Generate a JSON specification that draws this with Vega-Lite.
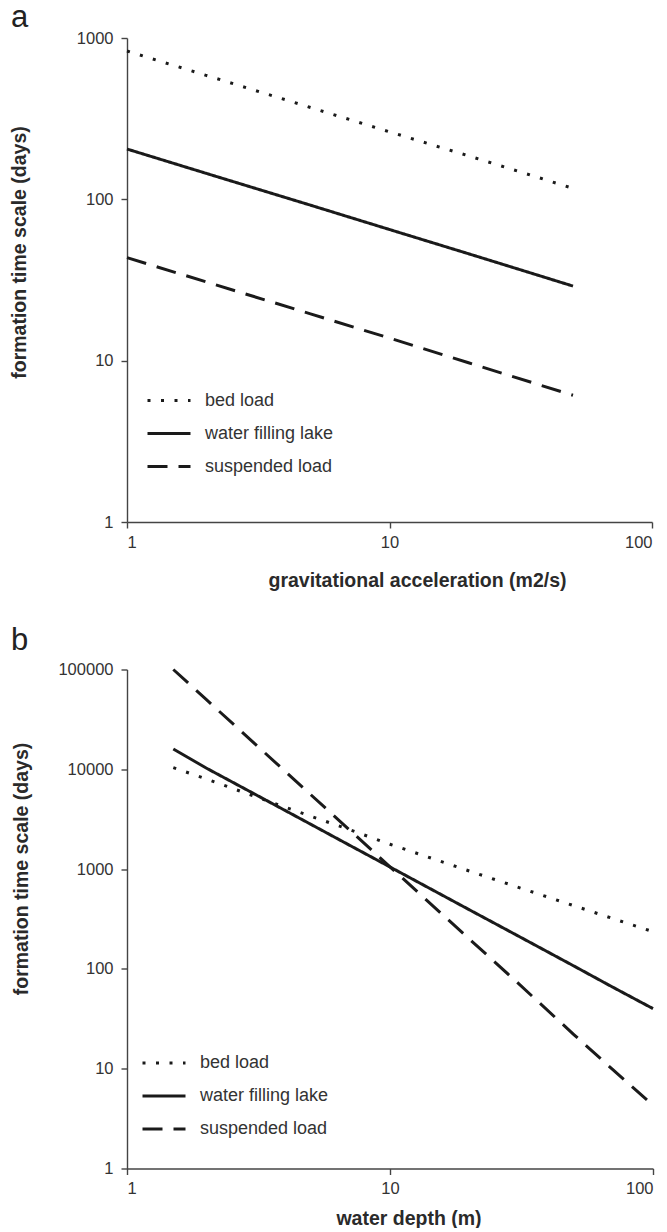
{
  "$schema": "https://vega.github.io/schema/vega-lite/v6.json",
  "background": "white",
  "padding": {"left": 9, "top": 2, "right": 5, "bottom": 0},
  "config": {
    "font": "Liberation Sans",
    "view": {"stroke": null},
    "concat": {"spacing": 34.5},
    "axis": {
      "grid": false,
      "domainColor": "#444",
      "domainWidth": 1.4,
      "tickColor": "#444",
      "tickWidth": 1.4,
      "tickSize": 6,
      "labelFont": "Liberation Sans",
      "labelFontSize": 16.5,
      "labelColor": "#333",
      "titleFont": "Liberation Sans",
      "titleFontSize": 19.5,
      "titleFontWeight": "bold",
      "titleColor": "#2a2a2a"
    },
    "legend": {
      "labelFont": "Liberation Sans",
      "labelFontSize": 18,
      "labelColor": "#333",
      "symbolType": "stroke",
      "symbolSize": 1849,
      "symbolStrokeWidth": 3,
      "symbolStrokeColor": "#1a1a1a",
      "rowPadding": 1,
      "labelOffset": 13,
      "padding": 0,
      "labelLimit": 300
    },
    "title": {"font": "Liberation Sans", "fontSize": 31, "fontWeight": "normal", "color": "#222", "anchor": "start", "frame": "group"}
  },
  "datasets": {
    "panelA": [
      {"x": 1, "y": 830, "series": "bed load"},
      {"x": 2, "y": 587, "series": "bed load"},
      {"x": 5, "y": 371, "series": "bed load"},
      {"x": 10, "y": 262, "series": "bed load"},
      {"x": 20, "y": 186, "series": "bed load"},
      {"x": 50, "y": 117, "series": "bed load"},
      {"x": 1, "y": 205, "series": "water filling lake"},
      {"x": 2, "y": 145, "series": "water filling lake"},
      {"x": 5, "y": 92, "series": "water filling lake"},
      {"x": 10, "y": 65, "series": "water filling lake"},
      {"x": 20, "y": 46, "series": "water filling lake"},
      {"x": 50, "y": 29, "series": "water filling lake"},
      {"x": 1, "y": 43.5, "series": "suspended load"},
      {"x": 2, "y": 30.8, "series": "suspended load"},
      {"x": 5, "y": 19.5, "series": "suspended load"},
      {"x": 10, "y": 13.8, "series": "suspended load"},
      {"x": 20, "y": 9.7, "series": "suspended load"},
      {"x": 50, "y": 6.1, "series": "suspended load"}
    ],
    "panelB": [
      {"x": 1.5, "y": 10400, "series": "bed load"},
      {"x": 2, "y": 8000, "series": "bed load"},
      {"x": 3, "y": 5460, "series": "bed load"},
      {"x": 5, "y": 3390, "series": "bed load"},
      {"x": 7, "y": 2490, "series": "bed load"},
      {"x": 10, "y": 1775, "series": "bed load"},
      {"x": 20, "y": 958, "series": "bed load"},
      {"x": 30, "y": 671, "series": "bed load"},
      {"x": 50, "y": 430, "series": "bed load"},
      {"x": 70, "y": 321, "series": "bed load"},
      {"x": 100, "y": 236, "series": "bed load"},
      {"x": 1.5, "y": 16000, "series": "water filling lake"},
      {"x": 2, "y": 10300, "series": "water filling lake"},
      {"x": 3, "y": 5800, "series": "water filling lake"},
      {"x": 5, "y": 2810, "series": "water filling lake"},
      {"x": 7, "y": 1740, "series": "water filling lake"},
      {"x": 10, "y": 1050, "series": "water filling lake"},
      {"x": 20, "y": 392, "series": "water filling lake"},
      {"x": 30, "y": 221, "series": "water filling lake"},
      {"x": 50, "y": 107, "series": "water filling lake"},
      {"x": 70, "y": 66, "series": "water filling lake"},
      {"x": 100, "y": 40, "series": "water filling lake"},
      {"x": 1.5, "y": 100000, "series": "suspended load"},
      {"x": 2, "y": 50100, "series": "suspended load"},
      {"x": 3, "y": 18950, "series": "suspended load"},
      {"x": 5, "y": 5560, "series": "suspended load"},
      {"x": 7, "y": 2480, "series": "suspended load"},
      {"x": 10, "y": 1054, "series": "suspended load"},
      {"x": 20, "y": 200, "series": "suspended load"},
      {"x": 30, "y": 76, "series": "suspended load"},
      {"x": 50, "y": 22, "series": "suspended load"},
      {"x": 70, "y": 9.9, "series": "suspended load"},
      {"x": 100, "y": 4.3, "series": "suspended load"}
    ]
  },
  "resolve": {"scale": {"strokeDash": "independent"}, "legend": {"strokeDash": "independent"}},
  "vconcat": [
    {
      "width": 525,
      "height": 484,
      "title": {"text": "a", "dx": -116, "dy": 0, "offset": -4},
      "data": {"name": "panelA"},
      "mark": {"type": "line", "color": "#1a1a1a", "strokeWidth": 3},
      "encoding": {
        "x": {"field": "x", "type": "quantitative",
          "scale": {"type": "log", "domain": [1, 100]},
          "axis": {"values": [1, 10, 100], "format": "d", "labelPadding": 6,
            "title": "gravitational acceleration (m2/s)", "titleX": 290, "titleY": 58, "titleBaseline": "middle"}},
        "y": {"field": "y", "type": "quantitative",
          "scale": {"type": "log", "domain": [1, 1000]},
          "axis": {"values": [1, 10, 100, 1000], "format": "d", "labelPadding": 8,
            "title": "formation time scale (days)", "titleX": -107.5, "titleY": 214, "titleBaseline": "middle"}},
        "strokeDash": {"field": "series", "type": "nominal",
          "scale": {"domain": ["bed load", "water filling lake", "suspended load"], "range": [[3, 10.5], [1, 0], [20, 11]]},
          "legend": {"title": null, "orient": "none", "legendX": 19, "legendY": 339.5}}
      }
    },
    {
      "width": 526,
      "height": 499,
      "title": {"text": "b", "dx": -116, "dy": 0, "offset": 4.5},
      "data": {"name": "panelB"},
      "mark": {"type": "line", "color": "#1a1a1a", "strokeWidth": 3},
      "encoding": {
        "x": {"field": "x", "type": "quantitative",
          "scale": {"type": "log", "domain": [1, 100]},
          "axis": {"values": [1, 10, 100], "format": "d", "labelPadding": 6,
            "title": "water depth (m)", "titleX": 281.5, "titleY": 50, "titleBaseline": "middle"}},
        "y": {"field": "y", "type": "quantitative",
          "scale": {"type": "log", "domain": [1, 100000]},
          "axis": {"values": [1, 10, 100, 1000, 10000, 100000], "format": "d", "labelPadding": 8,
            "title": "formation time scale (days)", "titleX": -106, "titleY": 199, "titleBaseline": "middle"}},
        "strokeDash": {"field": "series", "type": "nominal",
          "scale": {"domain": ["bed load", "water filling lake", "suspended load"], "range": [[3, 10.5], [1, 0], [20, 11]]},
          "legend": {"title": null, "orient": "none", "legendX": 14, "legendY": 370.5}}
      }
    }
  ]
}
